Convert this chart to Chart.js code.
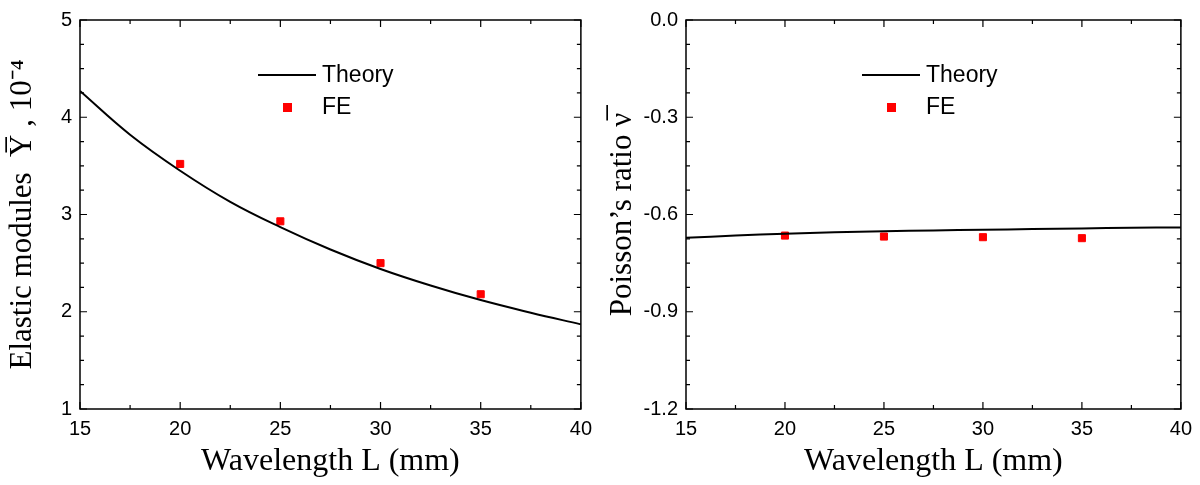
<!DOCTYPE html>
<html><head><meta charset="utf-8">
<script src="https://cdn.jsdelivr.net/npm/chart.js@4"></script>
<style>body{margin:0;background:#fff}#w{display:flex;width:1200px;height:485px}.c{width:600px;height:485px;position:relative}</style>
</head><body><div id="w"><div class="c"><canvas id="a"></canvas></div><div class="c"><canvas id="b"></canvas></div></div>
<script>
const theoryL = [15,17.5,20,22.5,25,27.5,30,32.5,35,37.5,40];
const theoryY = [4.27,3.82,3.45,3.13,2.87,2.64,2.44,2.27,2.12,1.99,1.87];
const theoryNu = [-0.672,-0.665,-0.659,-0.655,-0.652,-0.649,-0.647,-0.645,-0.643,-0.641,-0.640];
const feL = [20,25,30,35];
const feY = [3.52,2.93,2.50,2.18];
const feNu = [-0.665,-0.668,-0.670,-0.673];

const frame = {id:'frame', afterDraw(c, a, o){
  const ctx=c.ctx, ar=c.chartArea, x=c.scales.x, y=c.scales.y;
  ctx.save(); ctx.strokeStyle='#000'; ctx.lineWidth=1.5;
  ctx.strokeRect(ar.left, ar.top, ar.right-ar.left, ar.bottom-ar.top);
  ctx.lineWidth=1.2;
  for(let v=15; v<=40; v+=2.5){const p=x.getPixelForValue(v), L=(v%5===0)?7:4;
    ctx.beginPath();ctx.moveTo(p,ar.bottom);ctx.lineTo(p,ar.bottom-L);ctx.moveTo(p,ar.top);ctx.lineTo(p,ar.top+L);ctx.stroke();}
  for(let i=0;i<=16;i++){const v=o.ymin+i*(o.ymax-o.ymin)/16, p=y.getPixelForValue(v), L=(i%4===0)?7:4;
    ctx.beginPath();ctx.moveTo(ar.left,p);ctx.lineTo(ar.left+L,p);ctx.moveTo(ar.right,p);ctx.lineTo(ar.right-L,p);ctx.stroke();}
  const lx=o.lx;
  ctx.lineWidth=2; ctx.beginPath(); ctx.moveTo(lx,75); ctx.lineTo(lx+58,75); ctx.stroke();
  ctx.fillStyle='#f00'; ctx.fillRect(lx+25,103,9,9);
  ctx.fillStyle='#000'; ctx.font='23px "Liberation Sans", Arial'; ctx.textBaseline='middle';
  ctx.fillText('Theory', lx+64, 76); ctx.fillText('FE', lx+64, 108);
  ctx.restore();
}};

function mk(id, tv, fv, ymin, ymax, step, title, padL, padR, lx, fmt){
  new Chart(document.getElementById(id), {
    type:'scatter',
    data:{datasets:[
      {type:'line', data:theoryL.map((l,i)=>({x:l,y:tv[i]})), borderColor:'#000', borderWidth:2, pointRadius:0, tension:0.4, fill:false},
      {data:feL.map((l,i)=>({x:l,y:fv[i]})), backgroundColor:'#f00', borderColor:'#f00', pointStyle:'rect', pointRadius:5}
    ]},
    options:{responsive:false, animation:false, devicePixelRatio:1,
      layout:{padding:{top:10,right:padR,left:0,bottom:0}},
      plugins:{legend:{display:false}, tooltip:{enabled:false}, frame:{ymin,ymax,lx}},
      scales:{
        x:{type:'linear',min:15,max:40,grid:{display:false,drawTicks:false},border:{display:false},
          ticks:{stepSize:5,color:'#000',padding:8,font:{size:20,family:'"Liberation Sans", Arial'}},
          title:{display:true,text:'Wavelength L (mm)',color:'#000',font:{size:32,family:'"Liberation Serif", serif'},padding:{top:0}},
          afterFit(s){s.height=76;}},
        y:{min:ymin,max:ymax,grid:{display:false,drawTicks:false},border:{display:false},
          ticks:{stepSize:step,color:'#000',padding:8,font:{size:20,family:'"Liberation Sans", Arial'},callback:fmt},
          title:{display:true,text:title,color:'#000',font:{size:31,family:'"Liberation Serif", serif'},padding:{bottom:2}},
          afterFit(s){s.width=padL;}}
      }},
    plugins:[frame]
  });
}
document.getElementById('a').width=600;document.getElementById('a').height=485;
document.getElementById('b').width=600;document.getElementById('b').height=485;
mk('a', theoryY, feY, 1, 5, 1, 'Elastic modules  Y\u0305 , 10\u207B\u2074', 80, 17, 258, v=>v);
mk('b', theoryNu, feNu, -1.2, 0, 0.3, 'Poisson\u2019s ratio \u03BD\u0305', 86, 14, 262, v=>v.toFixed(1));
</script></body></html>
